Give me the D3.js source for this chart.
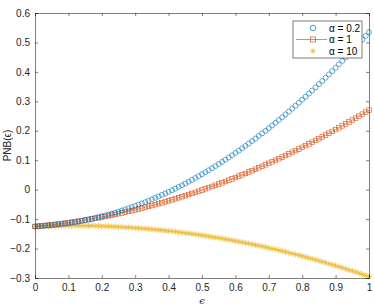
<!DOCTYPE html>
<html><head><meta charset="utf-8">
<script src="https://cdn.jsdelivr.net/npm/d3@7"></script>
<style>body{margin:0;background:#fff}svg{display:block}</style>
</head><body>
<script>
const xs = [0,0.01,0.02,0.03,0.04,0.05,0.06,0.07,0.08,0.09,0.1,0.11,0.12,0.13,0.14,0.15,0.16,0.17,0.18,0.19,0.2,0.21,0.22,0.23,0.24,0.25,0.26,0.27,0.28,0.29,0.3,0.31,0.32,0.33,0.34,0.35,0.36,0.37,0.38,0.39,0.4,0.41,0.42,0.43,0.44,0.45,0.46,0.47,0.48,0.49,0.5,0.51,0.52,0.53,0.54,0.55,0.56,0.57,0.58,0.59,0.6,0.61,0.62,0.63,0.64,0.65,0.66,0.67,0.68,0.69,0.7,0.71,0.72,0.73,0.74,0.75,0.76,0.77,0.78,0.79,0.8,0.81,0.82,0.83,0.84,0.85,0.86,0.87,0.88,0.89,0.9,0.91,0.92,0.93,0.94,0.95,0.96,0.97,0.98,0.99,1];
const alpha02 = [-0.125,-0.1244,-0.1238,-0.1230,-0.1220,-0.1210,-0.1198,-0.1185,-0.1171,-0.1156,-0.1139,-0.1121,-0.1102,-0.1082,-0.1060,-0.1038,-0.1014,-0.0989,-0.0962,-0.0935,-0.0906,-0.0876,-0.0845,-0.0812,-0.0779,-0.0744,-0.0708,-0.0670,-0.0632,-0.0592,-0.0551,-0.0509,-0.0465,-0.0421,-0.0375,-0.0328,-0.0279,-0.0230,-0.0179,-0.0127,-0.0074,-0.0020,0.0036,0.0093,0.0151,0.0210,0.0271,0.0332,0.0395,0.0460,0.0525,0.0592,0.0659,0.0728,0.0799,0.0870,0.0943,0.1017,0.1092,0.1168,0.1246,0.1325,0.1405,0.1486,0.1569,0.1652,0.1737,0.1823,0.1911,0.1999,0.2089,0.2180,0.2272,0.2366,0.2460,0.2556,0.2653,0.2752,0.2851,0.2952,0.3054,0.3157,0.3262,0.3367,0.3474,0.3582,0.3692,0.3802,0.3914,0.4027,0.4141,0.4256,0.4373,0.4491,0.4610,0.4730,0.4852,0.4974,0.5098,0.5224,0.535];
const alpha1 = [-0.125,-0.1240,-0.1229,-0.1217,-0.1205,-0.1193,-0.1179,-0.1166,-0.1151,-0.1136,-0.1121,-0.1104,-0.1088,-0.1070,-0.1052,-0.1034,-0.1014,-0.0995,-0.0974,-0.0954,-0.0932,-0.0910,-0.0887,-0.0864,-0.0840,-0.0816,-0.0791,-0.0765,-0.0739,-0.0712,-0.0685,-0.0656,-0.0628,-0.0599,-0.0569,-0.0539,-0.0508,-0.0476,-0.0444,-0.0411,-0.0378,-0.0344,-0.0310,-0.0275,-0.0239,-0.0203,-0.0166,-0.0128,-0.0090,-0.0052,-0.0013,0.0027,0.0068,0.0109,0.0150,0.0192,0.0235,0.0278,0.0322,0.0367,0.0412,0.0458,0.0504,0.0551,0.0598,0.0646,0.0695,0.0744,0.0794,0.0845,0.0896,0.0947,0.0999,0.1052,0.1105,0.1159,0.1214,0.1269,0.1325,0.1381,0.1438,0.1496,0.1554,0.1612,0.1672,0.1731,0.1792,0.1853,0.1914,0.1977,0.2040,0.2103,0.2167,0.2231,0.2297,0.2362,0.2429,0.2496,0.2563,0.2631,0.27];
const alpha10 = [-0.125,-0.1245,-0.1241,-0.1237,-0.1234,-0.1231,-0.1228,-0.1226,-0.1224,-0.1223,-0.1222,-0.1222,-0.1222,-0.1222,-0.1223,-0.1225,-0.1226,-0.1229,-0.1231,-0.1234,-0.1238,-0.1242,-0.1246,-0.1251,-0.1257,-0.1263,-0.1269,-0.1275,-0.1282,-0.1290,-0.1298,-0.1306,-0.1315,-0.1325,-0.1334,-0.1345,-0.1355,-0.1366,-0.1378,-0.1390,-0.1402,-0.1415,-0.1428,-0.1442,-0.1456,-0.1471,-0.1486,-0.1501,-0.1517,-0.1533,-0.1550,-0.1567,-0.1585,-0.1603,-0.1622,-0.1641,-0.1660,-0.1680,-0.1700,-0.1721,-0.1742,-0.1764,-0.1786,-0.1808,-0.1831,-0.1855,-0.1878,-0.1903,-0.1927,-0.1952,-0.1978,-0.2004,-0.2030,-0.2057,-0.2085,-0.2113,-0.2141,-0.2169,-0.2198,-0.2228,-0.2258,-0.2288,-0.2319,-0.2351,-0.2382,-0.2415,-0.2447,-0.2480,-0.2514,-0.2548,-0.2582,-0.2617,-0.2652,-0.2688,-0.2724,-0.2761,-0.2798,-0.2835,-0.2873,-0.2911,-0.295];
const xTicks = [0,0.1,0.2,0.3,0.4,0.5,0.6,0.7,0.8,0.9,1];
const yTicks = [-0.3,-0.2,-0.1,0,0.1,0.2,0.3,0.4,0.5,0.6];
const seriesNames = ["\u03b1 = 0.2","\u03b1 = 1","\u03b1 = 10"];

const W = 374, H = 306;
const m = {l:35, r:5, t:13, b:28};
const svg = d3.select("body").append("svg").attr("width",W).attr("height",H)
  .style("font-family","'Liberation Sans', Arial, sans-serif");
const x = d3.scaleLinear().domain([0,1]).range([m.l, W-m.r]);
const y = d3.scaleLinear().domain([-0.3,0.6]).range([H-m.b, m.t]);
const axCol = "#262626", tickFill = "#4d4d4d";

// data
const blue="#0072BD", red="#D95319", yel="#EDB120";
const g = svg.append("g");
const dY = xs.map((v,i)=>[v,alpha10[i]]);
const dR = xs.map((v,i)=>[v,alpha1[i]]);
const dB = xs.map((v,i)=>[v,alpha02[i]]);

function star(sel, r, col){
  sel.append("path").attr("fill","none").attr("stroke",col).attr("stroke-width",0.7)
    .attr("d",`M${-r},0H${r}M0,${-r}V${r}M${-r*0.7},${-r*0.7}L${r*0.7},${r*0.7}M${-r*0.7},${r*0.7}L${r*0.7},${-r*0.7}`);
}
// alpha=10 stars
dY.forEach(d=>{ const s=g.append("g").attr("transform",`translate(${x(d[0])},${y(d[1])})`); star(s,3,yel); });
// alpha=1 line + squares
g.append("path").datum(dR).attr("fill","none").attr("stroke",red).attr("stroke-width",0.6)
  .attr("d",d3.line().x(d=>x(d[0])).y(d=>y(d[1])));
g.selectAll(".sq").data(dR).enter().append("rect").attr("class","sq")
  .attr("x",d=>x(d[0])-2.3).attr("y",d=>y(d[1])-2.3).attr("width",4.6).attr("height",4.6)
  .attr("fill","none").attr("stroke",red).attr("stroke-width",0.6);
// alpha=0.2 circles
g.selectAll(".ci").data(dB).enter().append("circle").attr("class","ci")
  .attr("cx",d=>x(d[0])).attr("cy",d=>y(d[1])).attr("r",2.5)
  .attr("fill","none").attr("stroke",blue).attr("stroke-width",0.6);

// axes
const axB = svg.append("g").attr("transform",`translate(0,${H-m.b})`)
  .call(d3.axisBottom(x).tickValues(xTicks).tickSize(-3).tickPadding(6).tickFormat(d3.format("")));
const axL = svg.append("g").attr("transform",`translate(${m.l},0)`)
  .call(d3.axisLeft(y).tickValues(yTicks).tickSize(-3).tickPadding(5).tickFormat(d3.format("")));
const axT = svg.append("g").attr("transform",`translate(0,${m.t})`)
  .call(d3.axisTop(x).tickValues(xTicks).tickSize(-3).tickFormat(""));
const axR = svg.append("g").attr("transform",`translate(${W-m.r},0)`)
  .call(d3.axisRight(y).tickValues(yTicks).tickSize(-3).tickFormat(""));
[axB,axL,axT,axR].forEach(a=>{
  a.select(".domain").attr("stroke",axCol).attr("stroke-width",0.6);
  a.selectAll(".tick line").attr("stroke",axCol).attr("stroke-width",0.6);
  a.selectAll(".tick text").attr("fill",axCol).style("font-size","10px").style("font-family","'Liberation Sans', Arial, sans-serif");
});

// labels
svg.append("text").attr("x",(x(0)+x(1))/2).attr("y",H-2).attr("text-anchor","middle")
  .attr("fill",axCol).style("font-size","10px").style("font-family","'DejaVu Serif', serif").style("font-style","italic").text("\u03f5");
svg.append("text").attr("transform",`translate(11,${(y(-0.3)+y(0.6))/2}) rotate(-90)`).attr("text-anchor","middle")
  .attr("fill",axCol).style("font-size","10px").text("PNB(\u03f5)");

// legend
const lg = svg.append("g").attr("transform","translate(293,21)");
lg.append("rect").attr("width",69).attr("height",37).attr("fill","#fff").attr("stroke",axCol).attr("stroke-width",0.6);
const cols=[blue,red,yel];
seriesNames.forEach((n,i)=>{
  const yy = 7+i*11.5;
  const mx = 20;
  if(i===0) lg.append("circle").attr("cx",mx).attr("cy",yy).attr("r",2.8).attr("fill","none").attr("stroke",blue).attr("stroke-width",0.7);
  if(i===1){ lg.append("line").attr("x1",3).attr("x2",34).attr("y1",yy).attr("y2",yy).attr("stroke",red).attr("stroke-width",0.7);
    lg.append("rect").attr("x",mx-2.5).attr("y",yy-2.5).attr("width",5).attr("height",5).attr("fill","none").attr("stroke",red).attr("stroke-width",0.7);}
  if(i===2){ const s=lg.append("g").attr("transform",`translate(${mx},${yy})`); star(s,2.8,yel); }
  lg.append("text").attr("x",36).attr("y",yy+3.5).attr("fill","#000").style("font-size","10px").text(n);
});
</script>
</body></html>
